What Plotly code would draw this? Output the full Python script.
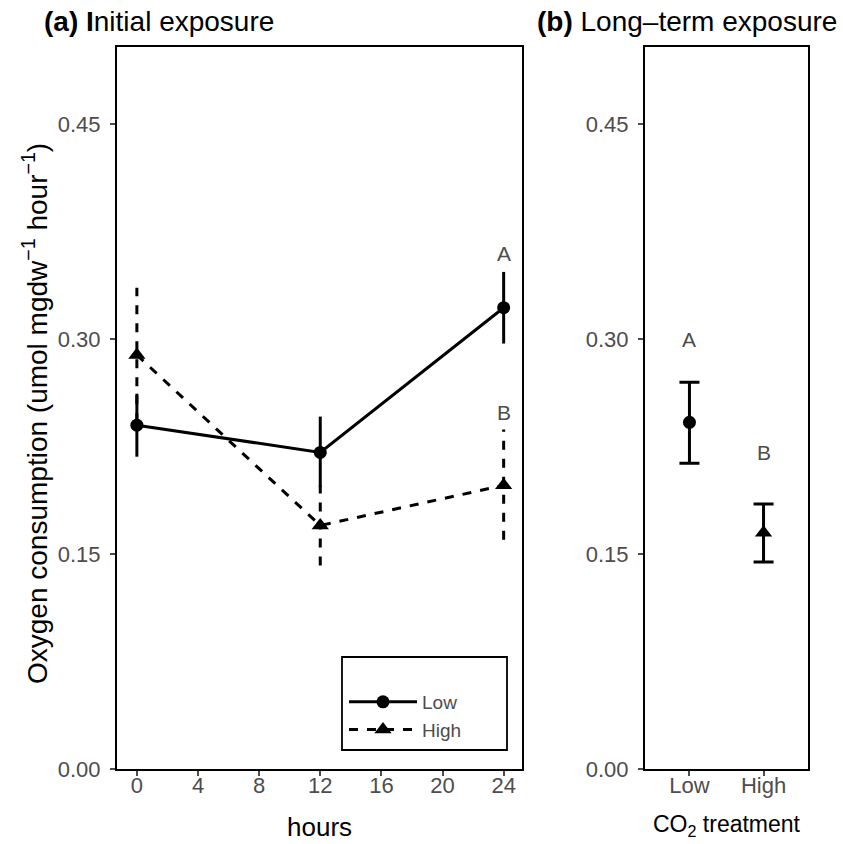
import plotly.graph_objects as go

# ---------------- data ----------------
hours = [0, 12, 24]
low_mean = [0.240, 0.221, 0.322]
low_lo = [0.218, 0.197, 0.297]
low_hi = [0.262, 0.246, 0.347]
high_mean = [0.289, 0.170, 0.198]
high_lo = [0.242, 0.142, 0.160]
high_hi = [0.336, 0.198, 0.237]
letters_a = ["A", "B"]
letters_a_y = [0.360, 0.249]

treat = ["Low", "High"]
lt_mean = [0.242, 0.165]
lt_lo = [0.2135, 0.1445]
lt_hi = [0.270, 0.185]
letters_b = ["A", "B"]
letters_b_y = [0.300, 0.221]

yticks = [0.0, 0.15, 0.30, 0.45]
xticks = [0, 4, 8, 12, 16, 20, 24]

W, H = 843, 844
def px_x(p): return p / W
def px_y(p): return 1 - p / H

FONT = "Liberation Sans, Arial, sans-serif"
GREY = "#4d4d4d"
LW = 3

fig = go.Figure()

# error bars panel a (as segments so dash applies)
for i, h in enumerate(hours):
    fig.add_trace(go.Scatter(x=[h, h], y=[high_lo[i], high_hi[i]], mode="lines",
                             line=dict(color="black", width=LW, dash="dash"),
                             showlegend=False, hoverinfo="skip", xaxis="x", yaxis="y"))
for i, h in enumerate(hours):
    fig.add_trace(go.Scatter(x=[h, h], y=[low_lo[i], low_hi[i]], mode="lines",
                             line=dict(color="black", width=LW),
                             showlegend=False, hoverinfo="skip", xaxis="x", yaxis="y"))

fig.add_trace(go.Scatter(x=hours, y=low_mean, mode="lines+markers", name="Low",
                         line=dict(color="black", width=LW),
                         marker=dict(symbol="circle", size=13, color="black"),
                         xaxis="x", yaxis="y"))
fig.add_trace(go.Scatter(x=hours, y=high_mean, mode="lines+markers", name="High",
                         line=dict(color="black", width=LW, dash="dash"),
                         marker=dict(symbol="triangle-up", size=15, color="black"),
                         xaxis="x", yaxis="y"))

# panel b
symbols_b = ["circle", "triangle-up"]
sizes_b = [13, 15]
for i in range(len(treat)):
    fig.add_trace(go.Scatter(x=[treat[i]], y=[lt_mean[i]], mode="markers",
                             marker=dict(symbol=symbols_b[i], size=sizes_b[i], color="black"),
                             error_y=dict(type="data", symmetric=False,
                                          array=[lt_hi[i] - lt_mean[i]],
                                          arrayminus=[lt_mean[i] - lt_lo[i]],
                                          color="black", thickness=LW, width=10),
                             showlegend=False, xaxis="x2", yaxis="y2"))

ann = []
for t, y in zip(letters_a, letters_a_y):
    ann.append(dict(x=24, y=y, xref="x", yref="y", text=t, showarrow=False,
                    xanchor="center", yanchor="middle",
                    font=dict(size=21, color=GREY, family=FONT)))
for t, x, y in zip(letters_b, treat, letters_b_y):
    ann.append(dict(x=x, y=y, xref="x2", yref="y2", text=t, showarrow=False,
                    xanchor="center", yanchor="middle",
                    font=dict(size=21, color=GREY, family=FONT)))

ann.append(dict(x=px_x(42), y=px_y(22), xref="paper", yref="paper", xanchor="left",
                yanchor="middle", showarrow=False, text="<b>(a) I</b>nitial exposure",
                font=dict(size=28, color="black", family=FONT)))
ann.append(dict(x=px_x(535), y=px_y(22), xref="paper", yref="paper", xanchor="left",
                yanchor="middle", showarrow=False, text="<b>(b)</b> Long–term exposure",
                font=dict(size=28, color="black", family=FONT)))
ann.append(dict(x=px_x(35), y=px_y(414), xref="paper", yref="paper", textangle=-90,
                xanchor="center", yanchor="middle", showarrow=False,
                text="Oxygen consumption (umol mgdw<sup>−1</sup> hour<sup>−1</sup>)",
                font=dict(size=28, color="black", family=FONT)))
ann.append(dict(x=px_x(319), y=px_y(827), xref="paper", yref="paper", showarrow=False,
                xanchor="center", yanchor="middle",
                text="hours", font=dict(size=26, color="black", family=FONT)))
ann.append(dict(x=px_x(727), y=px_y(825), xref="paper", yref="paper", showarrow=False,
                xanchor="center", yanchor="middle",
                text="CO<sub>2</sub> treatment", font=dict(size=23, color="black", family=FONT)))

axis_common = dict(showline=True, linecolor="black", linewidth=2, mirror=True,
                   ticks="outside", ticklen=5, tickcolor=GREY, tickwidth=1.5,
                   showgrid=False, zeroline=False, automargin=False,
                   tickfont=dict(size=22, color=GREY, family=FONT))

fig.update_layout(
    template="none",
    width=W, height=H, margin=dict(l=0, r=0, t=0, b=0, pad=0),
    plot_bgcolor="white", paper_bgcolor="white",
    xaxis=dict(domain=[px_x(117), px_x(522)], range=[-1.3, 25.2],
               tickvals=xticks, anchor="y", ticklabelstandoff=-9, **axis_common),
    yaxis=dict(domain=[px_y(769), px_y(47)], range=[0, 0.504], tickvals=yticks,
               tickformat=".2f", anchor="x", ticklabelstandoff=5, **axis_common),
    xaxis2=dict(domain=[px_x(645), px_x(808)], range=[-0.6, 1.6], type="category",
                anchor="y2", ticklabelstandoff=-9, **axis_common),
    yaxis2=dict(domain=[px_y(769), px_y(47)], range=[0, 0.504], tickvals=yticks,
                tickformat=".2f", anchor="x2", ticklabelstandoff=5, **axis_common),
    annotations=ann,
    shapes=[dict(type="rect", xref="paper", yref="paper",
                 x0=px_x(342), x1=px_x(507), y0=px_y(750), y1=px_y(657),
                 line=dict(color="black", width=1.8), fillcolor="rgba(0,0,0,0)")],
    legend=dict(x=px_x(344), y=px_y(683), xanchor="left", yanchor="top",
                borderwidth=0, bgcolor="rgba(0,0,0,0)",
                font=dict(size=19, color=GREY, family=FONT),
                itemwidth=68, tracegroupgap=0),
    showlegend=True,
)

fig.write_html("out.html")
